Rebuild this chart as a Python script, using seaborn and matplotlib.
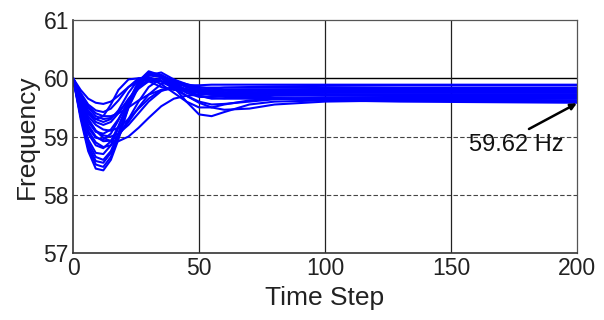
import numpy as np
import pandas as pd
import seaborn as sns
import matplotlib.pyplot as plt

time_steps = [0, 3, 6, 9, 12, 15, 18, 22, 26, 30, 35, 40, 45, 50, 55, 60, 70, 80, 100, 130, 200]

# frequency traces (Hz), one list per run
curves = [
    [60, 59.30, 58.75, 58.45, 58.42, 58.60, 58.95, 59.50, 59.90, 60.08, 60.05, 59.90, 59.80, 59.75, 59.72, 59.70, 59.68, 59.66, 59.65, 59.64, 59.62],
    [60, 59.35, 58.85, 58.58, 58.55, 58.72, 59.05, 59.55, 59.92, 60.10, 60.06, 59.95, 59.85, 59.80, 59.78, 59.76, 59.74, 59.73, 59.72, 59.72, 59.72],
    [60, 59.40, 58.95, 58.72, 58.70, 58.85, 59.15, 59.60, 59.95, 60.10, 60.02, 59.92, 59.86, 59.84, 59.84, 59.84, 59.84, 59.84, 59.84, 59.84, 59.84],
    [60, 59.50, 59.10, 58.90, 58.82, 58.85, 59.00, 59.30, 59.60, 59.85, 60.00, 59.98, 59.90, 59.85, 59.82, 59.80, 59.80, 59.80, 59.80, 59.80, 59.80],
    [60, 59.55, 59.20, 59.00, 58.92, 58.93, 59.02, 59.25, 59.50, 59.72, 59.90, 59.95, 59.90, 59.82, 59.78, 59.76, 59.76, 59.77, 59.78, 59.78, 59.78],
    [60, 59.60, 59.30, 59.10, 59.02, 59.00, 59.05, 59.20, 59.40, 59.60, 59.78, 59.85, 59.80, 59.70, 59.65, 59.66, 59.68, 59.70, 59.70, 59.70, 59.70],
    [60, 59.60, 59.30, 59.10, 58.98, 58.92, 58.92, 59.00, 59.15, 59.32, 59.52, 59.65, 59.70, 59.72, 59.72, 59.70, 59.68, 59.66, 59.64, 59.62, 59.60],
    [60, 59.70, 59.45, 59.30, 59.25, 59.30, 59.45, 59.75, 59.98, 60.00, 59.90, 59.75, 59.60, 59.50, 59.50, 59.55, 59.62, 59.65, 59.66, 59.66, 59.66],
    [60, 59.75, 59.55, 59.45, 59.42, 59.48, 59.62, 59.85, 60.00, 60.02, 59.95, 59.85, 59.80, 59.80, 59.82, 59.84, 59.85, 59.86, 59.87, 59.88, 59.88],
    [60, 59.80, 59.65, 59.58, 59.56, 59.60, 59.70, 59.85, 59.95, 59.98, 59.95, 59.90, 59.88, 59.88, 59.89, 59.89, 59.89, 59.89, 59.89, 59.89, 59.89],
    [60, 59.70, 59.50, 59.35, 59.30, 59.32, 59.42, 59.62, 59.82, 59.95, 60.00, 59.85, 59.60, 59.38, 59.35, 59.42, 59.55, 59.60, 59.62, 59.60, 59.58],
    [60, 59.65, 59.40, 59.25, 59.20, 59.25, 59.40, 59.65, 59.85, 59.95, 59.95, 59.85, 59.70, 59.58, 59.50, 59.46, 59.48, 59.55, 59.60, 59.62, 59.62],
    [60, 59.55, 59.25, 59.08, 59.05, 59.12, 59.30, 59.60, 59.85, 59.98, 59.95, 59.82, 59.70, 59.60, 59.55, 59.56, 59.60, 59.64, 59.67, 59.68, 59.68],
    [60, 59.50, 59.15, 58.98, 58.95, 59.05, 59.28, 59.62, 59.90, 60.05, 60.02, 59.88, 59.75, 59.68, 59.68, 59.70, 59.72, 59.74, 59.75, 59.75, 59.75],
    [60, 59.45, 59.05, 58.85, 58.80, 58.92, 59.18, 59.58, 59.90, 60.08, 60.05, 59.92, 59.80, 59.75, 59.74, 59.74, 59.75, 59.76, 59.76, 59.76, 59.76],
    [60, 59.40, 58.90, 58.65, 58.60, 58.75, 59.05, 59.50, 59.85, 60.05, 60.10, 59.98, 59.85, 59.78, 59.76, 59.76, 59.78, 59.80, 59.82, 59.82, 59.82],
    [60, 59.72, 59.52, 59.40, 59.35, 59.35, 59.40, 59.50, 59.62, 59.72, 59.80, 59.82, 59.80, 59.75, 59.72, 59.72, 59.74, 59.75, 59.76, 59.77, 59.77],
    [60, 59.62, 59.35, 59.20, 59.12, 59.10, 59.15, 59.30, 59.48, 59.65, 59.80, 59.85, 59.82, 59.76, 59.72, 59.70, 59.70, 59.71, 59.72, 59.72, 59.72],
    [60, 59.35, 58.80, 58.52, 58.48, 58.65, 59.00, 59.55, 59.95, 60.12, 60.05, 59.90, 59.78, 59.70, 59.66, 59.65, 59.65, 59.65, 59.64, 59.63, 59.62],
    [60, 59.65, 59.40, 59.30, 59.35, 59.55, 59.80, 59.98, 60.00, 59.95, 59.85, 59.80, 59.78, 59.78, 59.79, 59.80, 59.81, 59.81, 59.81, 59.81, 59.81],
]

x_ticks = [0, 50, 100, 150, 200]
y_ticks = [57, 58, 59, 60, 61]

df = pd.DataFrame(
    [(i, t, f) for i, c in enumerate(curves) for t, f in zip(time_steps, c)],
    columns=['run', 'step', 'freq'],
)

sns.set_style('white')
plt.rcParams['font.family'] = ['Liberation Sans', 'DejaVu Sans']

fig = plt.figure(figsize=(6.04, 3.2), dpi=100)
ax = fig.add_axes([0.121, 0.209, 0.834, 0.7285])

# grid first so the traces sit on top
for y in [58, 59]:
    ax.axhline(y, color='#444444', lw=0.8, ls=(0, (4, 2)), zorder=0)
ax.axhline(60, color='black', lw=1.0, zorder=0)
for x in [50, 100, 150]:
    ax.axvline(x, color='#222222', lw=0.9, zorder=0)

sns.lineplot(data=df, x='step', y='freq', units='run', estimator=None,
             color='#0000ff', lw=1.5, ax=ax, legend=False)

ax.set_xlim(0, 200)
ax.set_ylim(57, 61)
ax.set_xticks(x_ticks)
ax.set_yticks(y_ticks)
ax.tick_params(length=0, labelsize=16.5, pad=3, colors='#222222')
ax.set_xlabel('Time Step', fontsize=19, color='#222222', labelpad=4)
ax.set_ylabel('Frequency', fontsize=19, color='#222222', labelpad=3)

for side in ['left', 'bottom']:
    ax.spines[side].set_color('#333333')
    ax.spines[side].set_linewidth(1.2)
for side in ['top', 'right']:
    ax.spines[side].set_color('#555555')
    ax.spines[side].set_linewidth(0.9)

# label and pointer to the lowest settled trace
ax.text(176, 58.85, '59.62 Hz', fontsize=17, ha='center', va='center', color='#111111')
ax.annotate('', xy=(200, 59.57), xytext=(181, 59.13),
            arrowprops=dict(arrowstyle='-|>', color='black', lw=1.8,
                            shrinkA=0, shrinkB=0, mutation_scale=9))

fig.savefig('out.png', dpi=100)
